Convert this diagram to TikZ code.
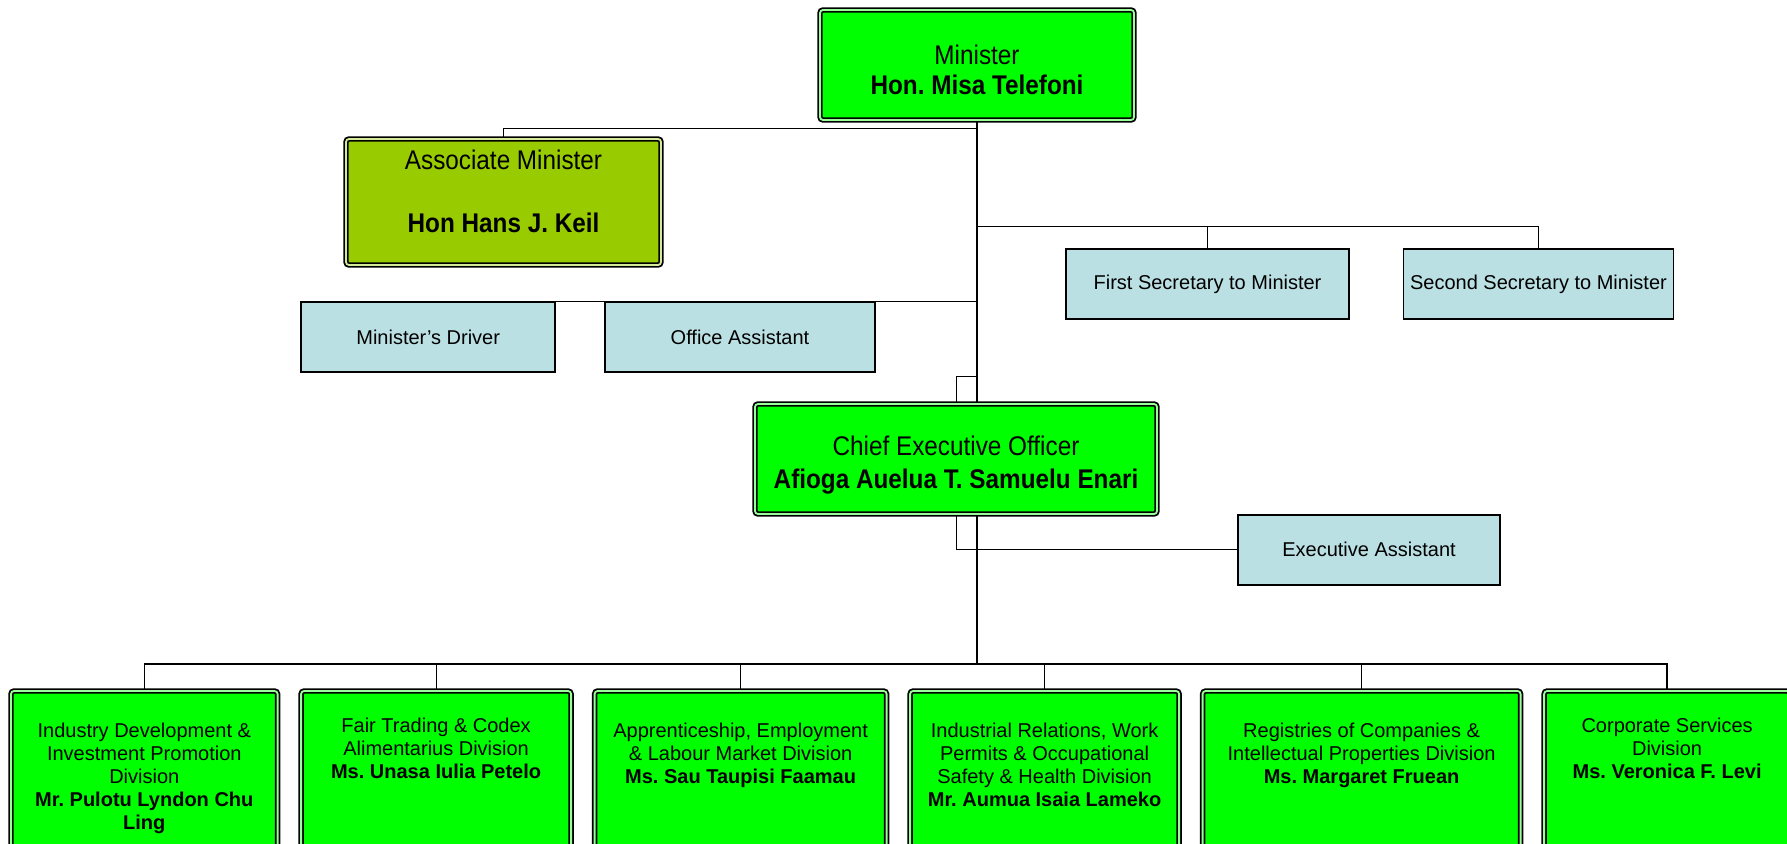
\documentclass[tikz,border=0pt]{standalone}
\usepackage{fontspec}
\setmainfont{Liberation Sans}
\newfontfamily\headfont{Liberation Sans}[FakeStretch=0.9]
\usetikzlibrary{positioning,backgrounds}
\frenchspacing

\definecolor{mingreen}{HTML}{00FF00}
\definecolor{assocgreen}{HTML}{99CC00}
\definecolor{staffblue}{HTML}{BBE0E3}

\tikzset{
	headbox/.style={draw, fill=#1, double=#1!40!white, line width=0.9pt, double distance=0.9pt, rounded corners=1.5pt, inner xsep=4pt, inner ysep=0pt, outer sep=0pt, align=center, font=\headfont\fontsize{13.5}{15}\selectfont},
	staffbox/.style={draw, fill=staffblue, line width=0.8pt, minimum height=35pt, outer sep=0pt, font=\fontsize{10}{12}\selectfont},
	divbox/.style={headbox=mingreen, font=\fontsize{10}{11.5}\selectfont, text height=#1, text depth=45pt},
	link/.style={draw, line width=0.5pt},
	trunk/.style={draw, line width=1pt},
}

\begin{document}
\begin{tikzpicture}[x=0.5pt, y=-0.5pt]
	\clip (0,0) rectangle (1787,844);

	\node[headbox=mingreen, minimum width=157pt, text height=42.5pt, text depth=12.5pt] (min) at (977,65) {Minister\\\textbf{Hon. Misa Telefoni}};
	\node[headbox=assocgreen, minimum width=157.5pt, text height=47pt, text depth=16pt, below left=9.5pt and 79.5pt of min] (assoc) {Associate Minister\\[16.5pt]\textbf{Hon Hans J. Keil}};
	\node[staffbox, minimum width=135.2pt] (oa) at (740,337) {Office Assistant};
	\node[staffbox, minimum width=127pt, left=24.8pt of oa] (drv) {Minister’s Driver};
	\node[staffbox, minimum width=141.7pt] (sec1) at (1207.5,284) {First Secretary to Minister};
	\node[staffbox, minimum width=134.7pt, right=27.1pt of sec1] (sec2) {Second Secretary to Minister};
	\node[headbox=mingreen, minimum width=201pt, text height=42pt, text depth=13pt] (ceo) at (956,459) {Chief Executive Officer\\[1.5pt]\textbf{Afioga Auelua T. Samuelu Enari}};
	\node[staffbox, minimum width=131.2pt, below right=0.4pt and 40.4pt of ceo] (ea) {Executive Assistant};

	\node[divbox=69pt, minimum width=133.3pt, anchor=north west] (d1) at (11,691) {Industry Development \&\\Investment Promotion\\Division\\\textbf{Mr. Pulotu Lyndon Chu}\\\textbf{Ling}};
	\node[divbox=43.5pt, minimum width=135pt, right=11.75pt of d1.north east, anchor=north west] (d2) {Fair Trading \& Codex\\Alimentarius Division\\\textbf{Ms. Unasa Iulia Petelo}};
	\node[divbox=46pt, minimum width=146pt, right=11.75pt of d2.north east, anchor=north west] (d3) {Apprenticeship, Employment\\\& Labour Market Division\\\textbf{Ms. Sau Taupisi Faamau}};
	\node[divbox=57.5pt, minimum width=134.5pt, right=11.75pt of d3.north east, anchor=north west] (d4) {Industrial Relations, Work\\Permits \& Occupational\\Safety \& Health Division\\\textbf{Mr. Aumua Isaia Lameko}};
	\node[divbox=46pt, minimum width=159pt, right=11.75pt of d4.north east, anchor=north west] (d5) {Registries of Companies \&\\Intellectual Properties Division\\\textbf{Ms. Margaret Fruean}};
	\node[divbox=43.5pt, minimum width=123pt, right=11.75pt of d5.north east, anchor=north west] (d6) {Corporate Services\\Division\\\textbf{Ms. Veronica F. Levi}};

	\coordinate (secbus) at ([yshift=11.4pt]sec1.north);
	\coordinate (ceojoin) at ([yshift=13.5pt]ceo.north);
	\coordinate (busl) at ([yshift=13.5pt]d1.north);

	\begin{scope}[on background layer]
		\draw[trunk] (min.south) -- (min.south |- busl);
		\draw[link] (assoc.north) |- ([yshift=-4.25pt]min.south);
		\draw[link] (drv.north east) -- (oa.north west);
		\draw[link] (oa.north east) -- (oa.north east -| min.south);
		\draw[link] (min.south |- secbus) -| (sec2.north);
		\draw[link] (sec1.north) -- (sec1.north |- secbus);
		\draw[link] (min.south |- ceojoin) -| (ceo.north);
		\draw[link] (ceo.south) |- (ea.west);
		\draw[link, line width=0.7pt] (d1.north) |- (busl) -| (d6.north);
		\foreach \dv in {d2,d3,d4,d5}
			\draw[link] (\dv.north) -- (\dv.north |- busl);
	\end{scope}

\end{tikzpicture}
\end{document}
